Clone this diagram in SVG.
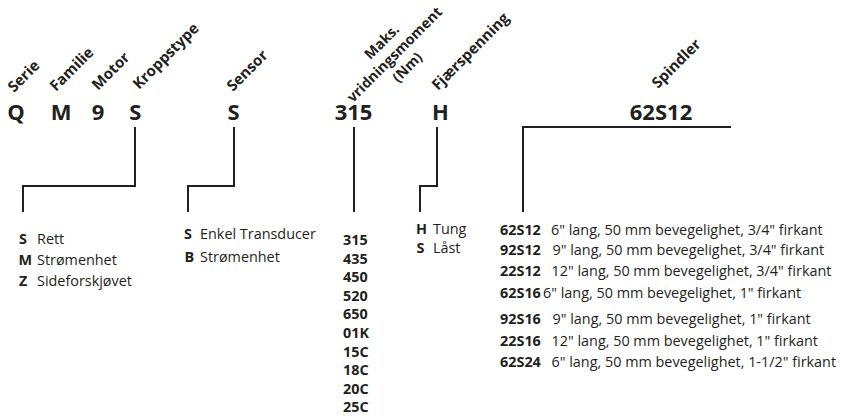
<svg xmlns="http://www.w3.org/2000/svg" width="841" height="416" viewBox="0 0 841 416">
<style>
text{font-family:"Open Sans","Noto Sans","Liberation Sans",sans-serif;fill:#231f20}
.code{font-size:22px;font-weight:700;text-anchor:middle}
.lab{font-size:15px;font-weight:700}
.labm{font-size:14.3px;font-weight:700;text-anchor:middle}
.li{font-size:14.4px}
.b{font-weight:700}
.conn{fill:none;stroke:#231f20;stroke-width:2;stroke-linejoin:miter}
</style>
<rect width="841" height="416" fill="#ffffff"/>
<g id="connectors" class="conn">
<path d="M135,127 V186 H23 V212"/>
<path d="M234,127 V186 H188 V212"/>
<path d="M354,127 V212"/>
<path d="M437,127 V186 H420 V212"/>
<path d="M731,127 H523 V212"/>
</g>
<g id="serie">
<text class="code" x="16" y="120">Q</text>
<text class="lab" transform="translate(14,93) rotate(-45)">Serie</text>
</g>
<g id="familie">
<text class="code" x="61" y="120">M</text>
<text class="lab" transform="translate(56,92) rotate(-45)">Familie</text>
</g>
<g id="motor">
<text class="code" x="98" y="120">9</text>
<text class="lab" transform="translate(98,91) rotate(-45)">Motor</text>
</g>
<g id="kroppstype">
<text class="code" x="135.3" y="120">S</text>
<text class="lab" transform="translate(139,90) rotate(-45)">Kroppstype</text>
<text class="li" y="244"><tspan class="b" x="19">S</tspan><tspan x="37">Rett</tspan></text>
<text class="li" y="265"><tspan class="b" x="18.5">M</tspan><tspan x="37">Strømenhet</tspan></text>
<text class="li" y="286"><tspan class="b" x="19">Z</tspan><tspan x="37">Sideforskjøvet</tspan></text>
</g>
<g id="sensor">
<text class="code" x="233.5" y="120">S</text>
<text class="lab" transform="translate(233,92) rotate(-45)">Sensor</text>
<text class="li" y="239"><tspan class="b" x="184">S</tspan><tspan x="200">Enkel Transducer</tspan></text>
<text class="li" y="262"><tspan class="b" x="184.5">B</tspan><tspan x="200">Strømenhet</tspan></text>
</g>
<g id="moment">
<text class="code" x="353.5" y="120">315</text>
<g transform="translate(398,58) rotate(-45)">
<text class="labm" x="0" y="-18">Maks.</text>
<text class="labm" x="0" y="0">vridningsmoment</text>
<text class="labm" x="0" y="18">(Nm)</text>
</g>
<g>
<text class="li b" x="343" y="245">315</text>
<text class="li b" x="343" y="263.6">435</text>
<text class="li b" x="343" y="282.2">450</text>
<text class="li b" x="343" y="300.8">520</text>
<text class="li b" x="343" y="319.4">650</text>
<text class="li b" x="343" y="338">01K</text>
<text class="li b" x="343" y="356.6">15C</text>
<text class="li b" x="343" y="375.2">18C</text>
<text class="li b" x="343" y="393.8">20C</text>
<text class="li b" x="343" y="412.4">25C</text>
</g>
</g>
<g id="fjaerspenning">
<text class="code" x="440.5" y="120">H</text>
<text class="lab" transform="translate(438,91) rotate(-45)">Fjærspenning</text>
<text class="li" y="234"><tspan class="b" x="416">H</tspan><tspan x="433">Tung</tspan></text>
<text class="li" y="253"><tspan class="b" x="416.5">S</tspan><tspan x="433">Låst</tspan></text>
</g>
<g id="spindler">
<text class="code" x="661" y="120">62S12</text>
<text class="lab" transform="translate(658,89) rotate(-45)">Spindler</text>
<text class="li" y="235"><tspan class="b" x="500">62S12</tspan><tspan x="551">6" lang, 50 mm bevegelighet, 3/4" firkant</tspan></text>
<text class="li" y="254.5"><tspan class="b" x="500">92S12</tspan><tspan x="552.5">9" lang, 50 mm bevegelighet, 3/4" firkant</tspan></text>
<text class="li" y="276"><tspan class="b" x="500">22S12</tspan><tspan x="551.5">12" lang, 50 mm bevegelighet, 3/4" firkant</tspan></text>
<text class="li" y="298"><tspan class="b" x="500">62S16</tspan><tspan x="543">6" lang, 50 mm bevegelighet, 1" firkant</tspan></text>
<text class="li" y="323.5"><tspan class="b" x="500">92S16</tspan><tspan x="552.5">9" lang, 50 mm bevegelighet, 1" firkant</tspan></text>
<text class="li" y="345.5"><tspan class="b" x="500">22S16</tspan><tspan x="551.5">12" lang, 50 mm bevegelighet, 1" firkant</tspan></text>
<text class="li" y="367"><tspan class="b" x="500">62S24</tspan><tspan x="551.5">6" lang, 50 mm bevegelighet, 1-1/2" firkant</tspan></text>
</g>
</svg>
